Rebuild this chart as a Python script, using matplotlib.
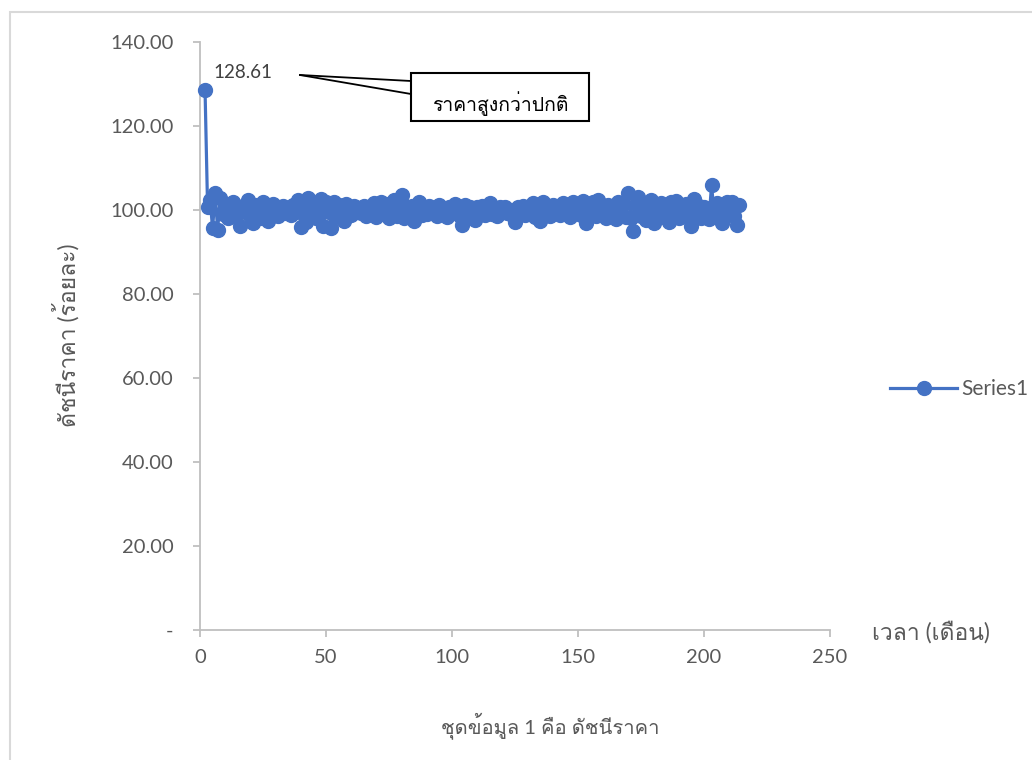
import matplotlib
matplotlib.use("Agg")
import matplotlib.pyplot as plt
from matplotlib import font_manager as fm
from matplotlib.ft2font import FT2Font
from matplotlib.patches import Rectangle

# ---------------- data ----------------
values = [128.61,
    100.8, 102.5, 95.6, 104.0, 95.3, 102.8, 99.0, 101.5, 98.0, 100.5,
    101.8, 98.5, 100.2, 96.2, 101.0, 99.5, 102.3, 98.8, 97.0, 101.2,
    100.0, 98.2, 101.8, 99.0, 97.5, 100.8, 101.5, 99.2, 98.5, 100.6,
    101.0, 99.4, 100.2, 98.8, 101.3, 99.6, 102.5, 96.0, 100.5, 97.2,
    102.8, 99.0, 101.5, 98.2, 100.4, 102.6, 96.2, 101.8, 99.5, 95.8,
    102.0, 98.5, 101.2, 99.0, 97.5, 101.5, 100.2, 98.8, 101.0, 99.6,
    100.5, 99.2, 101.0, 98.6, 100.8, 99.8, 101.6, 98.4, 100.6, 102.0,
    99.0, 101.5, 98.2, 100.8, 102.3, 98.6, 100.2, 103.5, 98.0, 100.6,
    99.2, 101.0, 97.4, 100.5, 101.8, 98.8, 100.2, 99.0, 101.0, 99.6,
    100.4, 98.6, 101.2, 99.8, 100.0, 98.4, 100.8, 99.2, 101.4, 100.0,
    98.6, 96.5, 101.2, 99.6, 100.6, 98.2, 97.6, 100.8, 99.4, 101.0,
    98.8, 100.4, 101.6, 99.0, 100.2, 98.6, 100.8, 99.8, 100.6, 99.2,
    100.0, 98.8, 97.2, 100.6, 99.6, 101.0, 98.8, 100.4, 99.0, 101.6,
    98.4, 100.8, 97.5, 102.0, 99.2, 100.6, 98.6, 101.2, 99.4, 100.2,
    98.8, 101.6, 99.6, 100.4, 98.4, 101.8, 99.2, 100.6, 98.8, 102.2,
    96.8, 100.6, 99.4, 101.8, 98.6, 102.4, 99.8, 100.2, 98.2, 101.2,
    99.6, 100.8, 97.8, 102.0, 99.0, 101.4, 98.4, 104.0, 98.0, 95.0,
    101.2, 103.2, 98.6, 101.0, 97.6, 100.4, 102.4, 96.8, 100.6, 99.0,
    101.6, 98.4, 100.2, 97.2, 101.8, 99.6, 102.2, 98.0, 100.8, 99.2,
    101.4, 98.6, 96.2, 102.6, 99.4, 101.0, 98.2, 100.6, 99.6, 97.8,
    106.0, 99.0, 101.6, 98.8, 96.8, 100.4, 101.8, 99.2, 102.0, 98.6, 96.5, 101.2]
months = list(range(2, 2 + len(values)))
series_name = "Series1"
peak_label = "128.61"
callout_text = "ราคาสูงกว่าปกติ"
x_title = "เวลา (เดือน)"
y_title = "ดัชนีราคา (ร้อยละ)"
bottom_title = "ชุดข้อมูล 1 คือ ดัชนีราคา"
y_ticks = [0, 20, 40, 60, 80, 100, 120, 140]
y_ticklabels = ["-", "20.00", "40.00", "60.00", "80.00", "100.00", "120.00", "140.00"]
x_ticks = [0, 50, 100, 150, 200, 250]

# ---------------- fonts ----------------
thai_family = None
for f in fm.fontManager.ttflist:
    try:
        cm = FT2Font(f.fname).get_charmap()
    except Exception:
        continue
    if 0x0E01 in cm and 0x0E32 in cm and 0x0E14 in cm:
        thai_family = f.name
        break
families = ["Lato"] + ([thai_family] if thai_family else []) + ["DejaVu Sans"]
plt.rcParams["font.family"] = families

BLUE = "#4472C4"
GRAY = "#595959"
AXGRAY = "#BFBFBF"

W, H = 1032, 760
fig = plt.figure(figsize=(W / 100, H / 100), dpi=100)
ax = fig.add_axes([200 / W, 1 - 630 / H, (830 - 200) / W, (630 - 42) / H])

line, = ax.plot(months, values, color=BLUE, lw=2.3, marker="o", ms=10,
                markerfacecolor=BLUE, markeredgecolor=BLUE, label=series_name,
                clip_on=False, zorder=3)

ax.set_xlim(0, 250)
ax.set_ylim(0, 140)
ax.set_yticks(y_ticks)
ax.set_yticklabels(y_ticklabels)
ax.set_xticks(x_ticks)
for s in ["top", "right"]:
    ax.spines[s].set_visible(False)
for s in ["left", "bottom"]:
    ax.spines[s].set_color(AXGRAY)
    ax.spines[s].set_linewidth(1.3)
ax.tick_params(axis="y", direction="out", length=5, width=1.3, color=AXGRAY,
               labelcolor=GRAY, labelsize=14.5, pad=14)
ax.tick_params(axis="x", direction="out", length=5, width=1.3, color=AXGRAY,
               labelcolor=GRAY, labelsize=14.5, pad=9)
ax.set_facecolor("none")

# data label for peak
ax.text(months[0] + 3.5, values[0] + 4.1, peak_label, fontsize=13.5, color="#404040",
        ha="left", va="center")

# callout
x0, x1 = (411 - 200) / 2.52, (589 - 200) / 2.52
y0, y1 = (630 - 121) / 4.2, (630 - 73) / 4.2
ax.add_patch(Rectangle((x0, y0), x1 - x0, y1 - y0, fill=True, facecolor="white",
                       edgecolor="black", lw=1.5, clip_on=False, zorder=5))
px, py = (300 - 200) / 2.52, (630 - 75) / 4.2
ax.plot([px, x0], [py, (630 - 81) / 4.2], color="black", lw=1.3, clip_on=False, zorder=5)
ax.plot([px, x0], [py, (630 - 94) / 4.2], color="black", lw=1.3, clip_on=False, zorder=5)
ax.text((x0 + x1) / 2, (630 - 104) / 4.2, callout_text, fontsize=14, color="black",
        ha="center", va="center", zorder=6)

# titles
fig.text(872 / W, 1 - 632 / H, x_title, fontsize=16.5, color=GRAY, ha="left", va="center")
fig.text(66 / W, 1 - 335 / H, y_title, fontsize=16.5, color=GRAY, ha="center",
         va="center", rotation=90)
fig.text(550 / W, 1 - 726 / H, bottom_title, fontsize=14.5, color=GRAY, ha="center",
         va="center")

# legend
leg = fig.legend(handles=[line], loc="center left", bbox_to_anchor=(880 / W, 1 - 389 / H),
                 frameon=False, fontsize=15, handlelength=3.2, handletextpad=0.2,
                 borderpad=0, labelcolor=GRAY)

# chart area border
fig.patches.append(Rectangle((9.5 / W, -0.1), 1.2, 1 - 12 / H + 0.1, transform=fig.transFigure,
                             fill=False, edgecolor="#D9D9D9", lw=1.5))

fig.savefig("out.png", dpi=100)
